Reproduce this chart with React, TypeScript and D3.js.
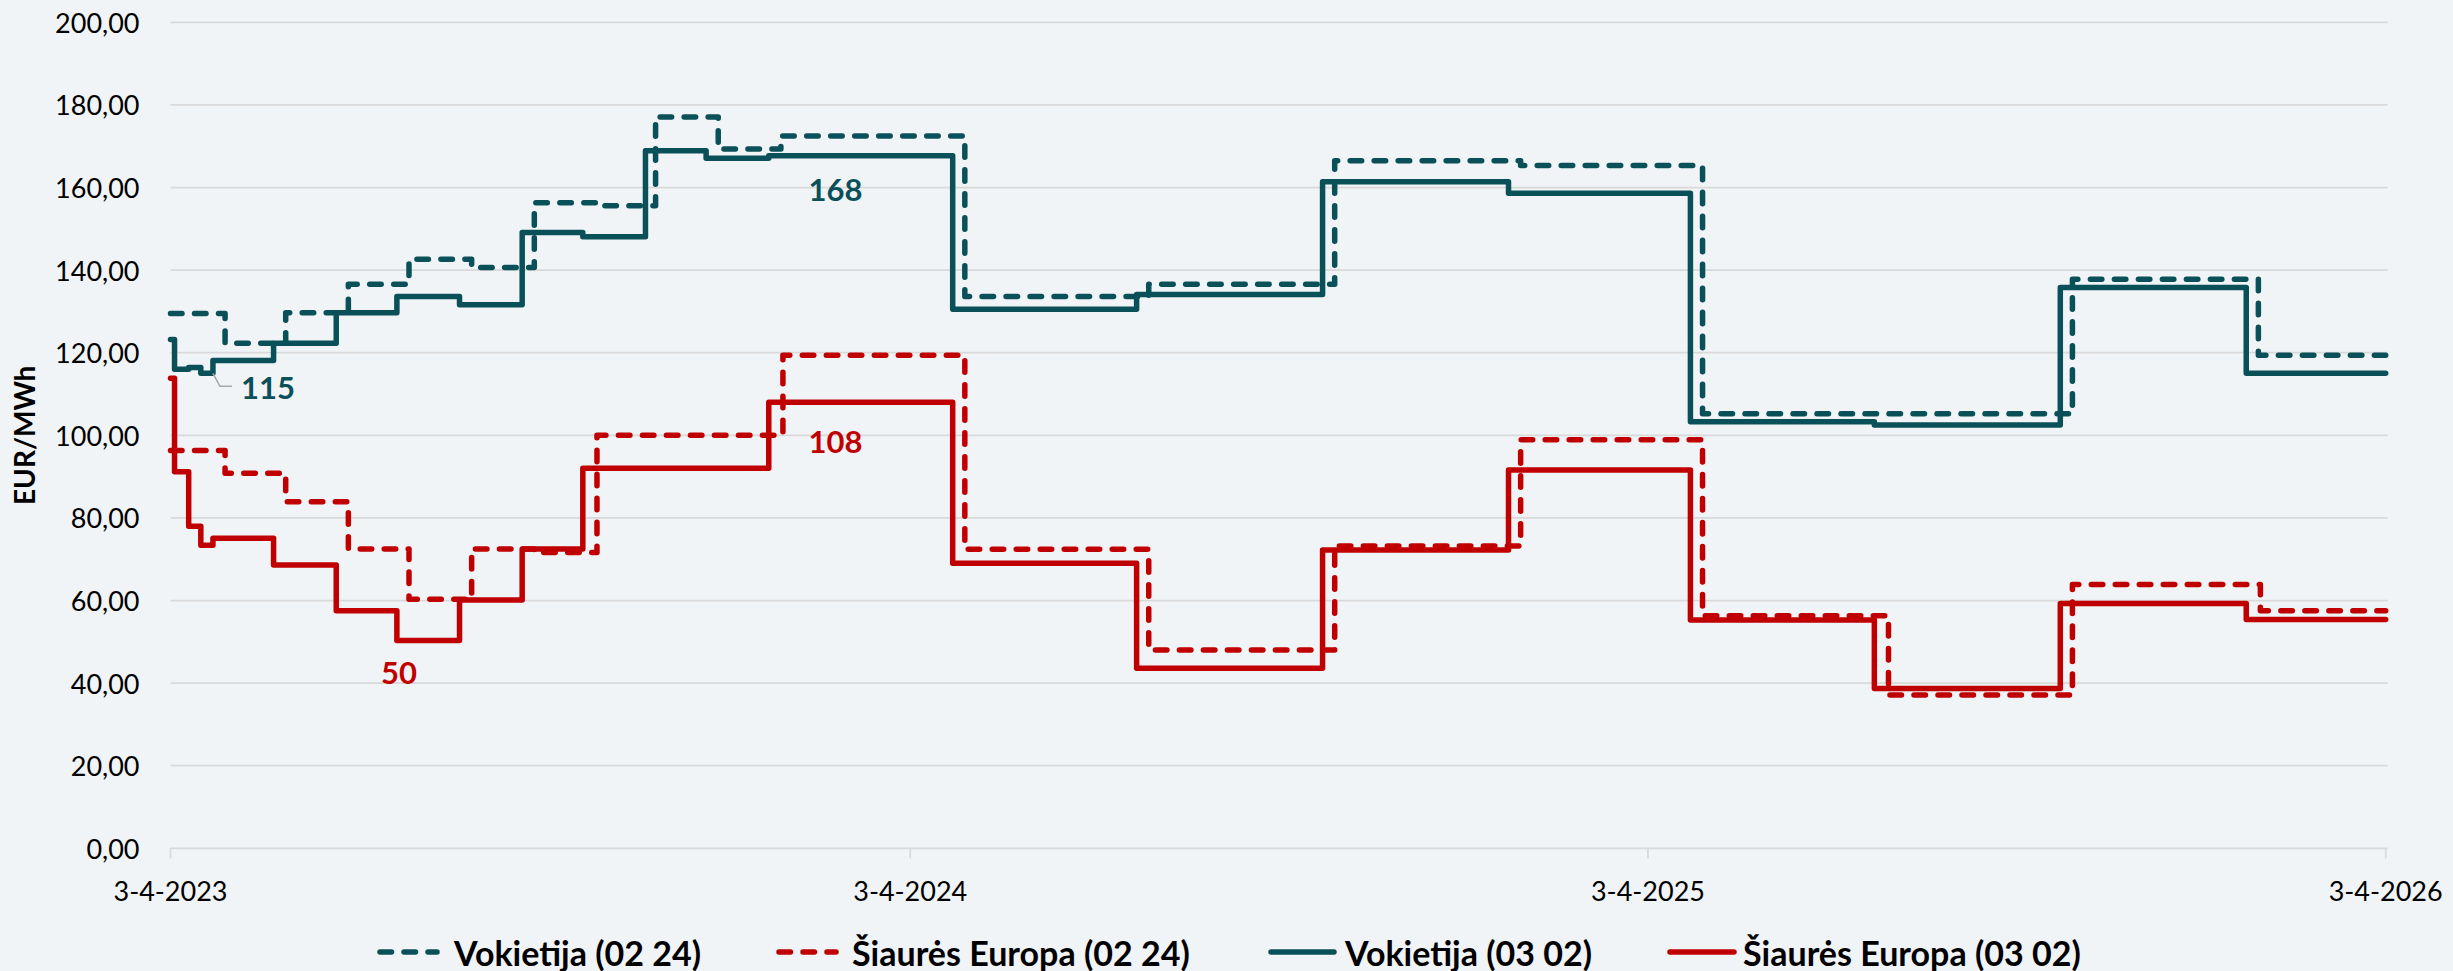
import React from "react";
import * as d3 from "d3";

// ---------- data ----------
const xTickDates = ["2023-04-03", "2024-04-03", "2025-04-03", "2026-04-03"];
const xTickLabels = ["3-4-2023", "3-4-2024", "3-4-2025", "3-4-2026"];
const yTicks = [0, 20, 40, 60, 80, 100, 120, 140, 160, 180, 200];

const seriesNames = [
  "Vokietija (02 24)",
  "Šiaurės Europa (02 24)",
  "Vokietija (03 02)",
  "Šiaurės Europa (03 02)",
];

const vok0224Dates = [
  "2023-04-03", "2023-04-30", "2023-05-30", "2023-06-30", "2023-07-30", "2023-08-30",
  "2023-09-30", "2023-10-31", "2023-11-29", "2023-12-30", "2024-01-30", "2024-04-30",
  "2024-07-30", "2024-10-30", "2025-01-30", "2025-04-30", "2025-10-30", "2026-01-30",
];
const vok0224Values = [
  129.5, 122.3, 129.7, 136.6, 142.6, 140.6,
  156.3, 155.6, 177.1, 169.3, 172.5, 133.6,
  136.6, 166.5, 165.3, 105.2, 137.8, 119.4,
];

const se0224Dates = [
  "2023-04-03", "2023-04-30", "2023-05-30", "2023-06-30", "2023-07-30", "2023-08-30",
  "2023-09-30", "2023-10-31", "2024-01-31", "2024-04-30", "2024-07-30", "2024-10-30",
  "2025-01-30", "2025-04-30", "2025-07-31", "2025-10-30", "2026-01-31",
];
const se0224Values = [
  96.3, 90.8, 83.9, 72.5, 60.3, 72.5,
  71.6, 100.0, 119.4, 72.4, 48.0, 73.2,
  98.9, 56.3, 37.1, 63.9, 57.5,
];

const vok0302Dates = [
  "2023-04-03", "2023-04-05", "2023-04-12", "2023-04-18", "2023-04-24", "2023-05-24",
  "2023-06-24", "2023-07-24", "2023-08-24", "2023-09-24", "2023-10-24", "2023-11-24",
  "2023-12-24", "2024-01-24", "2024-04-24", "2024-07-24", "2024-10-24", "2025-01-24",
  "2025-04-24", "2025-07-24", "2025-10-24", "2026-01-24",
];
const vok0302Values = [
  123.2, 116.0, 116.4, 115.0, 118.1, 122.3,
  129.7, 133.6, 131.6, 149.1, 148.1, 168.9,
  167.1, 167.7, 130.5, 134.1, 161.4, 158.6,
  103.3, 102.5, 135.8, 115.0,
];

const se0302Dates = [
  "2023-04-03", "2023-04-05", "2023-04-12", "2023-04-18", "2023-04-24", "2023-05-24",
  "2023-06-24", "2023-07-24", "2023-08-24", "2023-09-24", "2023-10-24", "2024-01-24",
  "2024-04-24", "2024-07-24", "2024-10-24", "2025-01-24", "2025-04-24", "2025-07-24",
  "2025-10-24", "2026-01-24",
];
const se0302Values = [
  113.8, 91.2, 78.0, 73.4, 75.1, 68.6,
  57.5, 50.3, 60.1, 72.5, 92.0, 108.0,
  69.0, 43.6, 72.2, 91.6, 55.3, 38.7,
  59.3, 55.4,
];

// data labels
const labelTexts = ["115", "168", "108", "50"];
const labelDates = ["2023-04-24", "2024-02-26", "2024-02-26", "2023-07-25"];
const labelValues = [115.0, 167.7, 108.0, 50.3];

// ---------- styling ----------
const W = 2453;
const H = 971;
const BG = "#F0F4F7";
const TEAL = "#0A5058";
const RED = "#C00000";
const GRID = "#D9D9D9";
const FONT = "Lato, 'Open Sans', sans-serif";
const DASH = "11.5 12.5";
const LW = 5.5;

const parse = d3.utcParse("%Y-%m-%d");

export default function App() {
  const x = d3
    .scaleUtc()
    .domain([parse(xTickDates[0])!, parse(xTickDates[xTickDates.length - 1])!])
    .range([170.5, 2385.7]);
  const y = d3.scaleLinear().domain([0, 200]).range([848.3, 22.3]);
  const xEnd = x.domain()[1];

  const line = d3
    .line<[Date, number]>()
    .x((d) => x(d[0]))
    .y((d) => y(d[1]))
    .curve(d3.curveStepAfter);

  const build = (dates: string[], values: number[]): [Date, number][] => {
    const pts: [Date, number][] = dates.map((s, i) => [parse(s)!, values[i]]);
    pts.push([xEnd, values[values.length - 1]]);
    return pts;
  };

  const series = [
    { name: seriesNames[0], pts: build(vok0224Dates, vok0224Values), color: TEAL, dash: true },
    { name: seriesNames[1], pts: build(se0224Dates, se0224Values), color: RED, dash: true },
    { name: seriesNames[2], pts: build(vok0302Dates, vok0302Values), color: TEAL, dash: false },
    { name: seriesNames[3], pts: build(se0302Dates, se0302Values), color: RED, dash: false },
  ];

  // label layout (offsets relative to anchor point)
  const labelStyle = [
    { color: TEAL, dx: 28, dy: 14, anchor: "start", leader: true },
    { color: TEAL, dx: 0, dy: 33, anchor: "middle", leader: false },
    { color: RED, dx: 0, dy: 39, anchor: "middle", leader: false },
    { color: RED, dx: 0, dy: 31, anchor: "middle", leader: false },
  ];

  const legendLayout = [
    { x0: 377, x1: 440, tx: 454 },
    { x0: 776, x1: 839, tx: 852 },
    { x0: 1268, x1: 1337, tx: 1345 },
    { x0: 1667, x1: 1737, tx: 1743 },
  ];
  const legendY = 952;

  return (
    <svg
      width={W}
      height={H}
      style={{ position: "absolute", left: 0, top: 0, display: "block" }}
      fontFamily={FONT}
    >
      <rect x={0} y={0} width={W} height={H} fill={BG} />

      {/* gridlines */}
      {yTicks.map((t) => (
        <line
          key={"g" + t}
          x1={x.range()[0]}
          x2={x.range()[1] + 2}
          y1={y(t)}
          y2={y(t)}
          stroke={GRID}
          strokeWidth={1.75}
        />
      ))}

      {/* x ticks */}
      {xTickDates.map((s) => {
        const xx = x(parse(s)!);
        return (
          <line key={"t" + s} x1={xx} x2={xx} y1={y(0)} y2={y(0) + 10} stroke={GRID} strokeWidth={1.75} />
        );
      })}

      {/* y tick labels */}
      {yTicks.map((t) => (
        <text
          key={"yl" + t}
          x={139.5}
          y={y(t)}
          textAnchor="end"
          dominantBaseline="central"
          fontSize={27}
          fill="#000"
        >
          {d3.format(".2f")(t).replace(".", ",")}
        </text>
      ))}

      {/* x tick labels */}
      {xTickDates.map((s, i) => (
        <text
          key={"xl" + s}
          x={x(parse(s)!)}
          y={890}
          textAnchor="middle"
          dominantBaseline="central"
          fontSize={27}
          fill="#000"
        >
          {xTickLabels[i]}
        </text>
      ))}

      {/* y title */}
      <text
        transform={`translate(24,${(y(0) + y(200)) / 2}) rotate(-90)`}
        textAnchor="middle"
        dominantBaseline="central"
        fontSize={28}
        fontWeight="bold"
        fill="#000"
      >
        EUR/MWh
      </text>

      {/* series */}
      {series.map((s) => (
        <path
          key={s.name}
          d={line(s.pts) || ""}
          fill="none"
          stroke={s.color}
          strokeWidth={LW}
          strokeDasharray={s.dash ? DASH : undefined}
          strokeLinecap="round"
          strokeLinejoin="round"
        />
      ))}

      {/* data labels */}
      {labelTexts.map((t, i) => {
        const ax = x(parse(labelDates[i])!);
        const ay = y(labelValues[i]);
        const st = labelStyle[i];
        return (
          <g key={"lab" + i}>
            {st.leader && (
              <polyline
                points={`${ax},${ay} ${ax + 7},${ay + 13} ${ax + 19},${ay + 13}`}
                fill="none"
                stroke="#A6A6A6"
                strokeWidth={1.5}
              />
            )}
            <text
              x={ax + st.dx}
              y={ay + st.dy}
              textAnchor={st.anchor as any}
              dominantBaseline="central"
              fontSize={31}
              fontWeight="bold"
              fill={st.color}
            >
              {t}
            </text>
          </g>
        );
      })}

      {/* legend */}
      {series.map((s, i) => {
        const L = legendLayout[i];
        return (
          <g key={"leg" + i}>
            <line
              x1={L.x0 + 3}
              x2={L.x1 - 3}
              y1={legendY}
              y2={legendY}
              stroke={s.color}
              strokeWidth={LW}
              strokeDasharray={s.dash ? DASH : undefined}
              strokeLinecap="round"
            />
            <text
              x={L.tx}
              y={legendY}
              dominantBaseline="central"
              fontSize={34}
              fontWeight="bold"
              fill="#000"
            >
              {s.name}
            </text>
          </g>
        );
      })}
    </svg>
  );
}
